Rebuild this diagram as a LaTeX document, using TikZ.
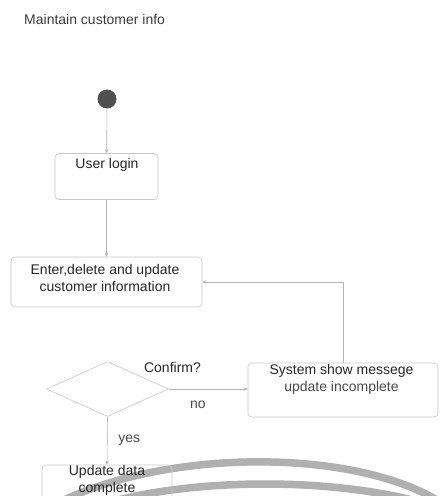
\documentclass[tikz,border=0pt]{standalone}
\usepackage{fontspec}
\setmainfont{Liberation Sans}
\usetikzlibrary{arrows.meta,shapes.geometric}

\definecolor{inkdark}{HTML}{262626}
\definecolor{inksoft}{HTML}{4A4A4A}
\definecolor{linegray}{HTML}{B4B4B4}
\definecolor{boxgray}{HTML}{C8C8C8}
\definecolor{startgray}{HTML}{505050}
\definecolor{bandgray}{HTML}{B0B0B0}

\tikzset{
  txt/.style={font=\fontsize{14}{17}\selectfont, text=inkdark, align=center, inner sep=0pt},
  softtxt/.style={txt, text=inksoft},
  actbox/.style={draw=boxgray, line width=0.6pt, rounded corners=4pt, inner sep=0pt},
  decision/.style={diamond, draw=boxgray, line width=0.6pt, inner sep=0pt},
  flow/.style={draw=linegray, line width=0.6pt, -{Stealth[length=4pt,width=3.5pt]}},
  band/.style={draw=bandgray, line width=7.5pt}
}

\begin{document}
\begin{tikzpicture}[x=1pt, y=-1pt]
  \useasboundingbox (0,0) rectangle (443,496);
  \clip (0,0) rectangle (443,496);
  \fill[white] (0,0) rectangle (443,496);

  % grey bands along the lower edge
  \draw[band] (60,502) .. controls (170,448) and (360,448) .. (445,505);
  \draw[band] (110,502) .. controls (200,478) and (330,478) .. (420,502);

  % title
  \node[txt, anchor=west, text=inkdark!90] (title) at (24,19) {Maintain customer info};

  % initial node
  \node[circle, fill=startgray, minimum size=19pt, inner sep=0pt] (start) at (107,99) {};

  % activities
  \node[actbox, minimum width=103pt, minimum height=46pt] (login) at (106.5,176.5) {};
  \node[txt] (logintext) at (107,165) {User login};

  \node[actbox, minimum width=191pt, minimum height=50pt] (enter) at (106.5,282) {};
  \node[txt] (entertext) at (105,277.5) {Enter,delete and update\\customer information};

  \node[decision, minimum width=122pt, minimum height=55pt] (confirm) at (107.5,389) {};
  \node[txt] (confirmtext) at (172.5,367) {Confirm?};

  \node[actbox, minimum width=190pt, minimum height=54pt] (sysmsg) at (343,390) {};
  \node[txt] (systext) at (341.5,371) {System show messege};
  \node[softtxt] (sysnote) at (341.5,388) {update incomplete};

  \node[actbox, minimum width=130pt, minimum height=62pt] (update) at (107,496) {};
  \node[txt] (updatetext) at (107,480) {Update data\\complete};

  % transitions
  \draw[flow] (start) -- (login);
  \draw[flow] (login) -- (enter);
  \draw[flow] (confirm.east) -- (confirm.east -| sysmsg.west)
    node[softtxt, pos=0.37, yshift=-16pt] (nolabel) {no};
  \draw[flow] (sysmsg.north) |- (enter.east);
  \draw[flow] (confirm.south) -- (update.north)
    node[softtxt, pos=0.48, xshift=22pt] (yeslabel) {yes};
\end{tikzpicture}
\end{document}
